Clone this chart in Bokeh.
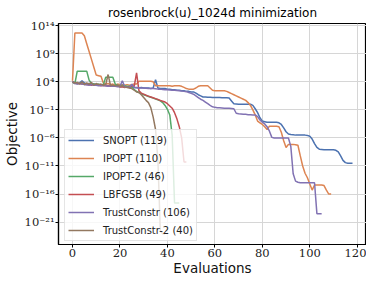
from bokeh.plotting import figure
from bokeh.models import (Range1d, FixedTicker, CustomJSTickFormatter, Legend, LegendItem)
from bokeh.embed import file_html
from bokeh.resources import INLINE

title = "rosenbrock(u)_1024d minimization"
x_label = "Evaluations"
y_label = "Objective"
x_ticks = [0, 20, 40, 60, 80, 100, 120]
y_tick_exponents = [-21, -16, -11, -6, -1, 4, 9, 14]

# log10(objective) per evaluation
snopt = [4.0,
         3.9, 3.7, 3.8, 4.2, 3.8, 3.6, 3.7, 3.5, 3.6, 3.5,
         3.5, 3.4, 3.5, 3.4, 3.3, 3.4, 3.3, 3.2, 3.3, 3.1,
         3.2, 3.1, 3.1, 3.0, 3.1, 3.0, 3.0, 2.9, 3.0, 2.9,
         2.9, 2.9, 2.8, 2.9, 4.4, 2.9, 2.8, 2.8, 2.8, 2.7,
         2.7, 2.6, 2.6, 2.5, 2.5, 2.4, 2.4, 2.3, 2.3, 2.2,
         2.2, 2.0, 1.7, 1.5, 1.3, 1.3, 1.25, 1.25, 1.2, 1.2,
         1.2, 1.2, 1.15, 1.15, 1.15, 1.1, 0.6, 0.1, 0.05, 0.0,
         0.0, 0.0, 0.0, 0.0, 0.0, -0.2, -0.8, -1.5, -2.4, -3.0,
         -3.1, -3.2, -3.2, -3.2, -3.2, -3.2, -3.3, -3.6, -4.2, -4.9,
         -5.3, -5.4, -5.45, -5.5, -5.5, -5.5, -5.5, -5.5, -5.55, -5.7,
         -6.2, -7.0, -7.7, -8.0, -8.05, -8.1, -8.1, -8.1, -8.1, -8.1,
         -8.2, -8.5, -9.2, -10.0, -10.4, -10.5, -10.5, -10.5]

ipopt = [4.2,
         12.7, 12.7, 12.7, 12.7, 12.2, 10.8, 9.4, 8.0, 6.6, 5.2,
         5.1, 5.0, 3.8, 3.6, 3.7, 3.5, 3.6, 3.4, 3.6, 3.5,
         3.5, 3.4, 3.5, 3.4, 3.5, 3.6, 3.6, 4.1, 4.1, 4.1,
         4.1, 4.1, 4.1, 4.0, 3.3, 3.3, 3.3, 3.3, 3.3, 3.3,
         3.3, 3.2, 3.3, 3.3, 3.3, 3.2, 3.0, 2.8, 2.7, 2.7,
         2.7, 2.9, 3.2, 3.3, 3.3, 3.3, 3.3, 2.9, 2.5, 2.4,
         2.4, 2.4, 2.4, 2.4, 2.3, 2.1, 1.9, 1.7, 1.5, 1.3,
         1.1, 0.9, 0.7, 0.3, -0.2, -1.0, -1.9, -3.0, -3.3, -3.6,
         -4.0, -4.5, -3.9, -3.9, -3.9, -3.9, -4.0, -5.0, -6.5, -7.7,
         -7.15, -7.15, -7.15, -7.2, -7.3, -9.2, -11.0, -12.3, -13.1, -14.2,
         -15.3, -14.4, -14.4, -14.4, -14.4, -14.5, -15.3, -16.0, -16.0]

ipopt2 = [3.9,
          3.7, 5.9, 5.9, 5.9, 5.9, 5.9, 4.3, 3.7, 3.6, 3.5,
          3.6, 3.4, 3.5, 4.8, 4.8, 4.8, 4.8, 3.6, 3.4, 3.3,
          3.4, 3.3, 3.2, 3.2, 3.1, 2.6, 2.3, 2.1, 1.9, 1.7,
          1.55, 1.4, 1.25, 1.1, 0.95, 0.8, 0.6, 0.3, -0.2, -0.9,
          -1.9, -5.5, -17.6, -17.6, -17.6]

lbfgsb = [4.0,
          3.8, 3.7, 3.7, 3.6, 3.6, 3.5, 3.5, 3.4, 3.5, 3.4,
          3.4, 3.3, 3.4, 3.3, 3.3, 3.2, 3.3, 3.2, 3.2, 3.1,
          3.1, 3.0, 3.1, 3.0, 3.3, 3.2, 5.6, 2.4, 2.0, 1.8,
          1.6, 1.45, 1.3, 1.15, 1.0, 0.85, 0.7, 0.55, 0.4, 0.1,
          -0.3, -0.7, -1.5, -2.6, -4.0, -6.0, -10.3, -10.3]

trust = [4.0,
         3.7, 3.6, 3.7, 3.6, 3.5, 3.5, 3.4, 3.5, 3.4, 3.4,
         3.3, 3.4, 3.3, 3.3, 3.2, 3.3, 3.2, 3.2, 3.1, 3.2,
         4.2, 3.1, 3.1, 3.0, 3.6, 3.0, 2.95, 2.9, 2.9, 2.9,
         2.85, 2.8, 2.8, 2.8, 2.75, 2.7, 2.7, 2.65, 2.6, 2.6,
         2.55, 2.5, 2.5, 2.45, 2.4, 2.35, 2.3, 2.25, 2.1, 1.95,
         1.8, 1.5, 1.2, 0.9, 0.7, 0.4, 0.1, -0.2, -0.45, -0.55,
         -0.6, -0.6, -0.65, -0.7, -0.7, -0.7, -0.75, -0.8, -1.6, -1.7,
         -1.75, -1.8, -1.8, -1.85, -1.85, -1.9, -1.9, -2.2, -2.8, -3.2,
         -3.5, -4.0, -4.8, -5.9, -6.0, -6.0, -6.0, -6.0, -6.0, -6.0,
         -6.0, -7.5, -12.4, -13.7, -13.9, -14.0, -14.0, -14.0, -14.0, -14.0,
         -14.0, -14.0, -19.5, -19.5, -19.5]

trust2 = [4.0,
          3.8, 3.9, 3.6, 4.0, 3.5, 3.8, 3.6, 3.9, 3.4, 3.7,
          3.5, 3.6, 3.4, 3.5, 5.3, 3.4, 3.4, 3.3, 3.4, 3.2,
          3.3, 3.1, 3.0, 2.9, 2.8, 2.5, 2.2, 2.1, 1.7, 1.2,
          0.7, 0.3, -0.6, -2.3, -4.5, -10.0, -22.5, -23.1, -23.1]

series = [
    ("SNOPT (119)", snopt, "#4C72B0"),
    ("IPOPT (110)", ipopt, "#DD8452"),
    ("IPOPT-2 (46)", ipopt2, "#55A868"),
    ("LBFGSB (49)", lbfgsb, "#C44E52"),
    ("TrustConstr (106)", trust, "#8172B3"),
    ("TrustConstr-2 (40)", trust2, "#937860"),
]

p = figure(width=366, height=278, y_axis_type="log",
           x_range=Range1d(-5.9, 123.9), y_range=Range1d(1e-25, 10 ** 14.4),
           output_backend="svg", toolbar_location=None,
           min_border_left=54, min_border_right=0, min_border_top=15,
           min_border_bottom=0, title=title)

items = []
for label, vals, color in series:
    xs = list(range(len(vals)))
    ys = [10.0 ** v for v in vals]
    r = p.line(xs, ys, line_color=color, line_width=1.5)
    items.append(LegendItem(label=label, renderers=[r]))

p.title.text_font = "DejaVu Sans"
p.title.text_font_size = "12px"
p.title.text_font_style = "normal"
p.title.align = "center"
p.title.text_color = "#000000"
p.title.standoff = 7

p.xaxis.ticker = FixedTicker(ticks=x_ticks)
p.yaxis.ticker = FixedTicker(ticks=[10.0 ** e for e in y_tick_exponents])
p.yaxis.formatter = CustomJSTickFormatter(code="""
const sup = {'0':'\u2070','1':'\u00b9','2':'\u00b2','3':'\u00b3','4':'\u2074','5':'\u2075','6':'\u2076','7':'\u2077','8':'\u2078','9':'\u2079','-':'\u207b'};
const e = Math.round(Math.log10(tick));
return '10' + String(e).split('').map(c => sup[c]).join('');
""")

for ax in (p.xaxis, p.yaxis):
    ax.major_label_text_font = "DejaVu Serif"
    ax.major_label_text_font_size = "11.5px"
    ax.major_label_text_color = "#222222"
    ax.axis_label_text_font = "DejaVu Sans"
    ax.axis_label_text_font_size = "13.5px"
    ax.axis_label_text_font_style = "normal"
    ax.axis_label_text_color = "#111111"
    ax.axis_line_color = "#000000"
    ax.axis_line_width = 1.2
    ax.major_tick_line_color = "#000000"
    ax.major_tick_out = 3
    ax.major_tick_in = 0
    ax.minor_tick_line_color = None
    ax.major_label_standoff = 1

p.xaxis.axis_label = x_label
p.yaxis.axis_label = y_label
p.xaxis.axis_label_standoff = 0
p.yaxis.axis_label_standoff = 2

p.xgrid.grid_line_color = "#d6d6d6"
p.ygrid.grid_line_color = "#d6d6d6"
p.xgrid.grid_line_width = 1
p.ygrid.grid_line_width = 1

p.outline_line_color = "#000000"
p.outline_line_width = 1.2
p.background_fill_color = "white"
p.border_fill_color = "white"

legend = Legend(items=items, location=(6, 3))
legend.margin = 0
legend.padding = 3
legend.spacing = 4
legend.glyph_width = 26
legend.glyph_height = 14
legend.label_height = 14
legend.label_standoff = 9
legend.label_text_font = "DejaVu Sans"
legend.label_text_font_size = "10px"
legend.label_text_color = "#222222"
legend.background_fill_color = "white"
legend.background_fill_alpha = 0.8
legend.border_line_color = "#cccccc"
legend.border_line_width = 1
p.add_layout(legend)

open("out.html", "w").write(file_html(p, INLINE))
